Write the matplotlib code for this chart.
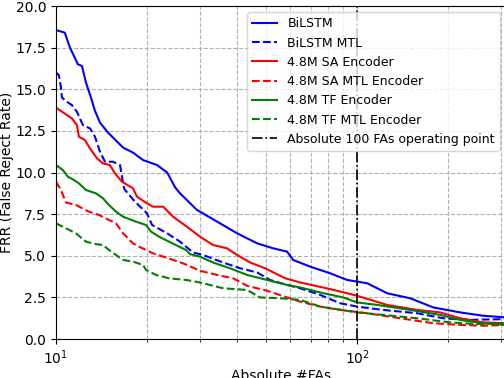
import matplotlib
matplotlib.use('Agg')
import matplotlib.pyplot as plt

# absolute #FAs vs FRR (%)
bilstm_x = [10, 10.7, 11.13, 11.83, 12.2, 12.58, 13.07, 13.48, 14.0, 14.89,
            16.7, 18.02, 19.46, 21.66, 23.4, 24.89, 25.82, 29.4, 33.2, 39.94,
            46.54, 52.6, 58.54, 61.3, 69.8, 81.35, 92.6, 108, 125.8, 150,
            178.9, 219.9, 262.1, 312]
bilstm_y = [18.56, 18.4, 17.5, 16.5, 16.4, 15.4, 14.5, 13.7, 13.0, 12.4,
            11.5, 11.2, 10.75, 10.45, 10.0, 9.1, 8.75, 7.75, 7.2, 6.35,
            5.75, 5.45, 5.25, 4.75, 4.35, 3.95, 3.55, 3.35, 2.75, 2.45,
            1.9, 1.6, 1.4, 1.3]

bilstm_mtl_x = [10, 10.23, 10.39, 10.47, 10.88, 11.30, 11.74, 12.29, 12.97, 13.48,
                14.0, 14.55, 15.46, 16.32, 16.57, 16.83, 16.96, 18.30, 20.06, 20.85,
                23.4, 25.82, 28.52, 30.79, 35.87, 40.87, 46.54, 51.4, 58.54, 64.66,
                75.36, 87.8, 100, 122.1, 158.2, 193.1, 231.9, 312]
bilstm_mtl_y = [16.0, 15.85, 15.1, 14.5, 14.25, 14.05, 13.65, 12.85, 12.65, 12.15,
                11.25, 10.65, 10.65, 10.45, 9.75, 9.05, 8.95, 8.25, 7.55, 6.85,
                6.35, 5.85, 5.2, 5.05, 4.6, 4.25, 4.0, 3.55, 3.25, 3.05,
                2.65, 2.15, 1.95, 1.75, 1.55, 1.25, 1.15, 1.2]

sa_x = [10, 10.88, 11.3, 11.74, 11.92, 12.48, 12.97, 13.69, 14.33, 15.10,
        15.70, 16.57, 18.02, 18.58, 20.06, 21.0, 22.7, 24.48, 27.2, 30.08,
        33.2, 36.97, 39.9, 44.1, 49.48, 57.7, 64.66, 72.54, 81.35, 100,
        125.8, 158.2, 188.7, 219.9, 262.1, 312]
sa_y = [13.9, 13.45, 13.25, 12.85, 12.15, 11.95, 11.45, 10.85, 10.55, 10.45,
        9.95, 9.45, 9.05, 8.55, 8.15, 7.95, 7.95, 7.35, 6.75, 6.15,
        5.65, 5.45, 5.05, 4.6, 4.25, 3.65, 3.4, 3.2, 3.0, 2.6,
        2.05, 1.75, 1.6, 1.25, 1.0, 0.95]

sa_mtl_x = [10, 10.39, 10.8, 11.65, 12.87, 13.9, 15.0, 15.83, 16.7, 17.35,
            18.0, 18.87, 19.91, 21.0, 22.7, 24.48, 26.42, 30.08, 34.26, 38.7,
            43.12, 50.23, 58.54, 64.66, 75.36, 87.8, 108, 139, 178.9, 219.9,
            262.1, 312]
sa_mtl_y = [9.45, 8.95, 8.2, 8.05, 7.65, 7.45, 7.15, 6.95, 6.35, 6.05,
            5.75, 5.55, 5.35, 5.15, 4.95, 4.75, 4.55, 4.1, 3.85, 3.65,
            3.2, 2.9, 2.5, 2.25, 1.95, 1.75, 1.55, 1.25, 0.95, 0.85,
            0.8, 0.85]

tf_x = [10, 10.55, 10.96, 11.48, 11.92, 12.58, 13.58, 14.33, 15.0, 15.83,
        16.7, 18.44, 19.91, 20.69, 21.99, 23.74, 25.63, 27.03, 27.87, 30.08,
        33.2, 37.85, 43.12, 50.23, 58.54, 64.66, 75.36, 89.84, 100, 116.6,
        150, 188.7, 219.9, 262.1, 312]
tf_y = [10.45, 10.15, 9.75, 9.55, 9.35, 8.95, 8.75, 8.45, 8.05, 7.65,
        7.35, 7.05, 6.85, 6.45, 6.15, 5.85, 5.55, 5.35, 5.1, 4.95,
        4.6, 4.25, 3.85, 3.55, 3.25, 3.1, 2.8, 2.5, 2.2, 2.05,
        1.75, 1.45, 1.15, 0.95, 0.85]

tf_mtl_x = [10, 10.8, 11.65, 12.58, 13.58, 14.33, 15.0, 15.83, 16.7, 18.02,
            19.46, 19.91, 21.49, 23.74, 27.03, 30.08, 35.87, 43.12, 47.61, 55.49,
            64.66, 75.36, 100, 122.1, 158.2, 203.7, 250.4, 312]
tf_mtl_y = [6.95, 6.65, 6.35, 5.85, 5.7, 5.65, 5.35, 5.05, 4.75, 4.65,
            4.45, 4.15, 3.85, 3.65, 3.55, 3.4, 3.05, 2.95, 2.5, 2.45,
            2.35, 1.95, 1.6, 1.45, 1.25, 1.0, 0.9, 0.95]

operating_point = 100
y_ticks = [0.0, 2.5, 5.0, 7.5, 10.0, 12.5, 15.0, 17.5, 20.0]

fig = plt.figure(figsize=(5.04, 3.78), dpi=100)
# right spine sits just outside the canvas, as in the reference
ax = fig.add_axes([0.111, 0.103, 0.893, 0.881])

ax.plot(bilstm_x, bilstm_y, color='blue', linestyle='-', label='BiLSTM')
ax.plot(bilstm_mtl_x, bilstm_mtl_y, color='blue', linestyle='--', label='BiLSTM MTL')
ax.plot(sa_x, sa_y, color='red', linestyle='-', label='4.8M SA Encoder')
ax.plot(sa_mtl_x, sa_mtl_y, color='red', linestyle='--', label='4.8M SA MTL Encoder')
ax.plot(tf_x, tf_y, color='green', linestyle='-', label='4.8M TF Encoder')
ax.plot(tf_mtl_x, tf_mtl_y, color='green', linestyle='--', label='4.8M TF MTL Encoder')
ax.axvline(operating_point, color='black', linestyle='-.', linewidth=1.2,
           label='Absolute 100 FAs operating point')

ax.set_xscale('log')
ax.set_xlim(10, 312)
ax.set_ylim(0, 20)
ax.set_yticks(y_ticks)
ax.grid(True, which='both', linestyle='--', color='#b0b0b0', linewidth=0.8)
ax.set_xlabel('Absolute #FAs', labelpad=1)
ax.set_ylabel('FRR (False Reject Rate)', labelpad=1)
ax.legend(loc='upper right', fontsize=9)

plt.savefig('out.png', dpi=100)
plt.close('all')
